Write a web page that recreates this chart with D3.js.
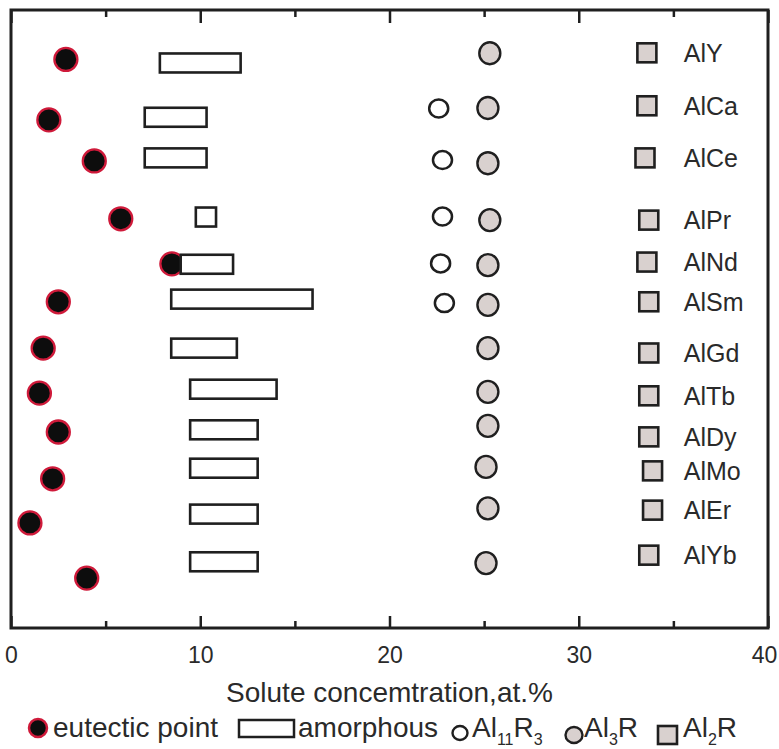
<!DOCTYPE html>
<html>
<head>
<meta charset="utf-8">
<script src="https://cdn.jsdelivr.net/npm/d3@7"></script>
<style>
  html, body { margin: 0; padding: 0; background: #fff; }
  svg { display: block; }
  text { font-family: "Liberation Sans", Arial, Helvetica, sans-serif; fill: #2a2a2a; }
</style>
</head>
<body>
<svg id="chart" width="779" height="749"></svg>
<script>
// Binary Al–R systems, top to bottom
const alloys = ["AlY", "AlCa", "AlCe", "AlPr", "AlNd", "AlSm", "AlGd", "AlTb", "AlDy", "AlMo", "AlEr", "AlYb"];

// Eutectic point composition (at.%) and its vertical row position
const eutecticX   = [2.9, 2.0, 4.4, 5.8, 8.5, 2.5, 1.7, 1.5, 2.5, 2.2, 1.0, 4.0];
const eutecticRow = [1.12, 2.49, 3.42, 4.73, 5.75, 6.61, 7.66, 8.68, 9.56, 10.62, 11.62, 12.87];

// Amorphous-forming composition range (at.%)
const amorphousFrom = [7.8, 7.0, 7.0, 9.7, 8.9, 8.4, 8.4, 9.4, 9.4, 9.4, 9.4, 9.4];
const amorphousTo   = [12.2, 10.4, 10.4, 10.9, 11.8, 16.0, 12.0, 14.1, 13.1, 13.1, 13.1, 13.1];
const amorphousRow  = [1.20, 2.43, 3.35, 4.69, 5.76, 6.55, 7.66, 8.59, 9.51, 10.38, 11.42, 12.50];

// Al11R3 compound (only in some systems)
const al11r3Alloys = ["AlCa", "AlCe", "AlPr", "AlNd", "AlSm"];
const al11r3X      = [22.6, 22.8, 22.8, 22.7, 22.9];
const al11r3Row    = [2.23, 3.40, 4.68, 5.74, 6.64];

// Al3R compound
const al3rX   = [25.3, 25.2, 25.2, 25.3, 25.2, 25.2, 25.2, 25.2, 25.2, 25.1, 25.2, 25.1];
const al3rRow = [0.98, 2.22, 3.47, 4.76, 5.78, 6.68, 7.66, 8.65, 9.42, 10.35, 11.29, 12.53];

// Al2R compound
const al2rX   = [33.6, 33.6, 33.5, 33.7, 33.6, 33.7, 33.7, 33.7, 33.7, 33.9, 33.9, 33.7];
const al2rRow = [0.97, 2.17, 3.35, 4.76, 5.71, 6.61, 7.77, 8.74, 9.67, 10.44, 11.33, 12.35];

const xMajorTicks = [0, 10, 20, 30, 40];
const xMinorTicks = [5, 15, 25, 35];
const xTitle = "Solute concemtration,at.%";

// ---------------------------------------------------------------
const svg = d3.select("#chart");
const frame = { left: 11, top: 10, right: 768, bottom: 628 };

const x = d3.scaleLinear().domain([0, 40]).range([frame.left, frame.right]);
const y = d3.scaleLinear().domain([0, 14]).range([frame.top, frame.bottom]);

const ink = "#1f1f1f";
const grey = "#d9d1cf";
const red = "#cf1a3a";

// Axes: inward ticks on bottom and top edges
const gBottom = svg.append("g").attr("transform", `translate(0,${frame.bottom})`);
gBottom.call(d3.axisBottom(x).tickValues(xMajorTicks).tickSize(-12).tickPadding(19).tickFormat(d3.format("d")));
const gBottomMinor = svg.append("g").attr("transform", `translate(0,${frame.bottom})`);
gBottomMinor.call(d3.axisBottom(x).tickValues(xMinorTicks).tickSize(-7).tickFormat(""));
const gTop = svg.append("g").attr("transform", `translate(0,${frame.top})`);
gTop.call(d3.axisTop(x).tickValues(xMajorTicks).tickSize(-13).tickFormat(""));
const gTopMinor = svg.append("g").attr("transform", `translate(0,${frame.top})`);
gTopMinor.call(d3.axisTop(x).tickValues(xMinorTicks).tickSize(-7).tickFormat(""));

[gBottom, gBottomMinor, gTop, gTopMinor].forEach(g => {
  g.select(".domain").remove();
  g.selectAll(".tick line").attr("stroke", ink).attr("stroke-width", 2.5);
  g.selectAll(".tick text").attr("font-size", 23).attr("fill", "#2a2a2a")
    .attr("font-family", '"Liberation Sans", Arial, sans-serif');
});
// keep the last tick label inside the page edge
gBottom.selectAll(".tick text").filter(d => d === 40).attr("dx", -4);

// Plot frame
svg.append("rect")
  .attr("x", frame.left).attr("y", frame.top)
  .attr("width", frame.right - frame.left).attr("height", frame.bottom - frame.top)
  .attr("fill", "none").attr("stroke", ink).attr("stroke-width", 3);

// Axis title
svg.append("text")
  .attr("x", x(20)).attr("y", 702)
  .attr("text-anchor", "middle").attr("font-size", 28)
  .text(xTitle);

// Eutectic points
svg.append("g").selectAll("circle")
  .data(alloys.map((a, i) => ({ a, v: eutecticX[i], r: eutecticRow[i] })))
  .join("circle")
  .attr("cx", d => x(d.v)).attr("cy", d => y(d.r)).attr("r", 11.5)
  .attr("fill", "#0d0d0d").attr("stroke", red).attr("stroke-width", 2.3);

// Amorphous ranges
const barH = 19;
svg.append("g").selectAll("rect")
  .data(alloys.map((a, i) => ({ a, lo: amorphousFrom[i], hi: amorphousTo[i], r: amorphousRow[i] })))
  .join("rect")
  .attr("x", d => x(d.lo) + 1.25).attr("y", d => y(d.r) - barH / 2)
  .attr("width", d => x(d.hi) - x(d.lo) - 2.5).attr("height", barH)
  .attr("fill", "#fff").attr("stroke", ink).attr("stroke-width", 2.6);

// Al11R3
svg.append("g").selectAll("ellipse")
  .data(al11r3Alloys.map((a, i) => ({ a, v: al11r3X[i], r: al11r3Row[i] })))
  .join("ellipse")
  .attr("cx", d => x(d.v)).attr("cy", d => y(d.r)).attr("rx", 9.5).attr("ry", 9)
  .attr("fill", "#fff").attr("stroke", ink).attr("stroke-width", 2.5);

// Al3R
svg.append("g").selectAll("ellipse")
  .data(alloys.map((a, i) => ({ a, v: al3rX[i], r: al3rRow[i] })))
  .join("ellipse")
  .attr("cx", d => x(d.v)).attr("cy", d => y(d.r)).attr("rx", 10.5).attr("ry", 11)
  .attr("fill", grey).attr("stroke", ink).attr("stroke-width", 2.4);

// Al2R
const sq = 19;
const al2r = alloys.map((a, i) => ({ a, v: al2rX[i], r: al2rRow[i] }));
svg.append("g").selectAll("rect")
  .data(al2r)
  .join("rect")
  .attr("x", d => x(d.v) - sq / 2).attr("y", d => y(d.r) - sq / 2)
  .attr("width", sq).attr("height", sq)
  .attr("fill", grey).attr("stroke", ink).attr("stroke-width", 2.6);

// System names beside the Al2R markers
svg.append("g").selectAll("text")
  .data(al2r)
  .join("text")
  .attr("x", x(35.55)).attr("y", d => y(d.r)).attr("dy", "0.36em")
  .attr("font-size", 25)
  .text(d => d.a);

// Legend
const lg = svg.append("g");
const lgBase = 737;
const lgFont = 28;
lg.append("circle").attr("cx", 38).attr("cy", 728).attr("r", 9)
  .attr("fill", "#0d0d0d").attr("stroke", red).attr("stroke-width", 2.5);
lg.append("text").attr("x", 53).attr("y", lgBase).attr("font-size", lgFont).text("eutectic point");

lg.append("rect").attr("x", 239).attr("y", 720).attr("width", 55).attr("height", 17)
  .attr("fill", "#fff").attr("stroke", ink).attr("stroke-width", 2.5);
lg.append("text").attr("x", 298).attr("y", lgBase).attr("font-size", lgFont).text("amorphous");

lg.append("ellipse").attr("cx", 460).attr("cy", 733).attr("rx", 7.5).attr("ry", 7)
  .attr("fill", "#fff").attr("stroke", ink).attr("stroke-width", 2.4);
function formula(xPos, parts) {
  const t = lg.append("text").attr("x", xPos).attr("y", lgBase).attr("font-size", lgFont);
  let sub = false;
  parts.forEach(([s, isSub]) => {
    const dy = isSub && !sub ? 8 : (!isSub && sub ? -8 : 0);
    t.append("tspan").attr("dy", dy).attr("font-size", isSub ? 16 : lgFont).text(s);
    sub = isSub;
  });
}
formula(472, [["Al", false], ["11", true], ["R", false], ["3", true]]);

lg.append("ellipse").attr("cx", 574).attr("cy", 735).attr("rx", 8.5).attr("ry", 8)
  .attr("fill", grey).attr("stroke", ink).attr("stroke-width", 2.4);
formula(584, [["Al", false], ["3", true], ["R", false]]);

lg.append("rect").attr("x", 658).attr("y", 726).attr("width", 19).attr("height", 18)
  .attr("fill", grey).attr("stroke", ink).attr("stroke-width", 2.6);
formula(683, [["Al", false], ["2", true], ["R", false]]);
</script>
</body>
</html>
